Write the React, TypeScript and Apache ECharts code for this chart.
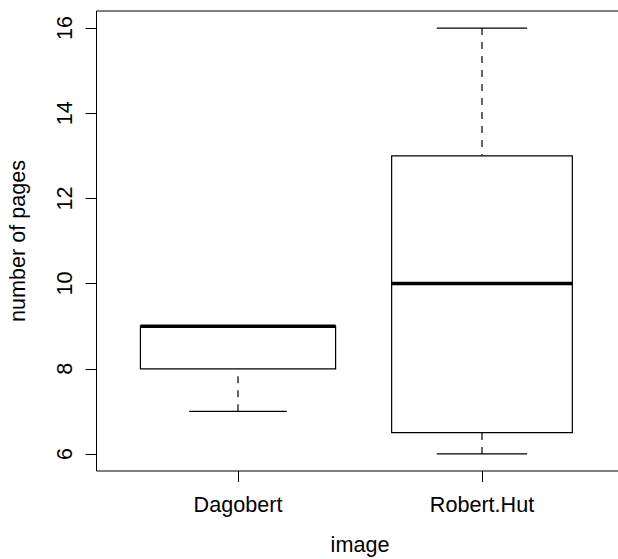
import React, { useEffect, useRef } from "react";
import * as echarts from "echarts";

const categories = ["Dagobert", "Robert.Hut"];
const mins = [7, 6];
const q1s = [8, 6.5];
const medians = [9, 10];
const q3s = [9, 13];
const maxs = [9, 16];
const counts = [7, 6];
const yTicks = [6, 8, 10, 12, 14, 16];

const FONT = "'Liberation Sans', Arial, Helvetica, sans-serif";
const FS = 21.6;

export default function App() {
  const ref = useRef<HTMLDivElement>(null);
  useEffect(() => {
    if (!ref.current) return;
    const chart = echarts.init(ref.current, null, { renderer: "svg" });
    const maxN = Math.max(...counts);
    const data = categories.map((_, i) => [
      i + 1,
      mins[i],
      q1s[i],
      medians[i],
      q3s[i],
      maxs[i],
      0.8 * Math.sqrt(counts[i] / maxN),
    ]);
    chart.setOption({
      animation: false,
      backgroundColor: "#ffffff",
      textStyle: { fontFamily: FONT },
      grid: {
        left: 96.5,
        top: 11,
        width: 527,
        height: 460,
        outerBoundsMode: "none",
        containLabel: false,
        show: true,
        borderColor: "#000",
        borderWidth: 1,
        backgroundColor: "transparent",
      },
      xAxis: {
        type: "value",
        min: 0.42,
        max: 2.58,
        axisLine: { show: false },
        splitLine: { show: false },
        axisTick: {
          show: true,
          customValues: [1, 2],
          length: 11,
          lineStyle: { color: "#000", width: 1 },
        },
        axisLabel: {
          customValues: [1, 2],
          margin: 22.5,
          fontSize: FS,
          fontFamily: FONT,
          color: "#000",
          formatter: (v: number) => categories[Math.round(v) - 1] ?? "",
        },
      },
      yAxis: {
        type: "value",
        min: 5.6,
        max: 16.4,
        axisLine: { show: false },
        splitLine: { show: false },
        axisTick: {
          show: true,
          customValues: yTicks,
          length: 11,
          lineStyle: { color: "#000", width: 1 },
        },
        axisLabel: {
          customValues: yTicks,
          rotate: 90,
          margin: 21,
          fontSize: FS,
          fontFamily: FONT,
          color: "#000",
        },
      },
      graphic: [
        {
          type: "text",
          x: 360,
          y: 544.5,
          style: {
            text: "image",
            fontSize: FS,
            fontFamily: FONT,
            fill: "#000",
            textAlign: "center",
            textVerticalAlign: "middle",
          },
        },
        {
          type: "text",
          x: 17.5,
          y: 241,
          rotation: Math.PI / 2,
          style: {
            text: "number of pages",
            fontSize: FS,
            fontFamily: FONT,
            fill: "#000",
            textAlign: "center",
            textVerticalAlign: "middle",
          },
        },
      ],
      series: [
        {
          type: "custom",
          coordinateSystem: "cartesian2d",
          encode: { x: 0, y: [1, 2, 3, 4, 5] },
          data,
          clip: false,
          renderItem: (params: any, api: any) => {
            const x = api.value(0);
            const mn = api.value(1);
            const q1 = api.value(2);
            const med = api.value(3);
            const q3 = api.value(4);
            const mx = api.value(5);
            const w = api.value(6);
            const pw = api.size([w, 0])[0];
            const cx = api.coord([x, q1])[0];
            const yMin = api.coord([x, mn])[1];
            const yQ1 = api.coord([x, q1])[1];
            const yMed = api.coord([x, med])[1];
            const yQ3 = api.coord([x, q3])[1];
            const yMax = api.coord([x, mx])[1];
            const line = { stroke: "#000", lineWidth: 1.2 };
            const dash = { stroke: "#000", lineWidth: 1.2, lineDash: [7, 7] };
            const children: any[] = [];
            if (yMin !== yQ1) {
              children.push({
                type: "line",
                shape: { x1: cx, y1: yMin, x2: cx, y2: yQ1 },
                style: dash,
              });
            }
            if (yMax !== yQ3) {
              children.push({
                type: "line",
                shape: { x1: cx, y1: yMax, x2: cx, y2: yQ3 },
                style: dash,
              });
            }
            children.push({
              type: "line",
              shape: { x1: cx - pw / 4, y1: yMin, x2: cx + pw / 4, y2: yMin },
              style: line,
            });
            children.push({
              type: "line",
              shape: { x1: cx - pw / 4, y1: yMax, x2: cx + pw / 4, y2: yMax },
              style: line,
            });
            children.push({
              type: "rect",
              shape: { x: cx - pw / 2, y: yQ3, width: pw, height: yQ1 - yQ3 },
              style: { fill: "#fff", stroke: "#000", lineWidth: 1.2 },
            });
            children.push({
              type: "line",
              shape: { x1: cx - pw / 2, y1: yMed, x2: cx + pw / 2, y2: yMed },
              style: { stroke: "#000", lineWidth: 3.5 },
            });
            return { type: "group", children };
          },
        },
      ],
    });
    return () => chart.dispose();
  }, []);
  return (
    <div
      ref={ref}
      style={{ position: "absolute", left: 0, top: 0, width: 618, height: 559 }}
    />
  );
}
